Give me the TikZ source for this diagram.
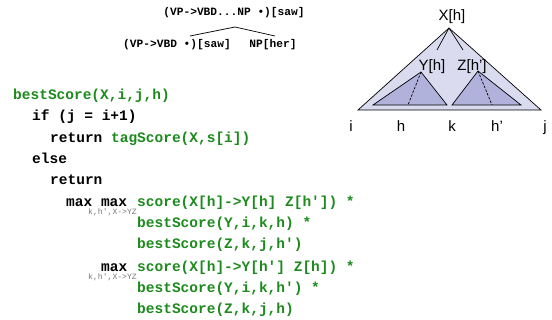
\documentclass[tikz,border=0pt]{standalone}
\usepackage{fontspec}
\setmainfont{Liberation Sans}
\setmonofont{Liberation Mono}
\definecolor{codegreen}{RGB}{28,138,28}
\definecolor{subgray}{RGB}{120,120,120}
\definecolor{outerfill}{RGB}{218,219,238}
\definecolor{innerfill}{RGB}{176,178,220}
\tikzset{
  code/.style={inner sep=0pt, anchor=base west, font=\fontsize{14.5}{17}\selectfont\ttfamily\bfseries},
  kw/.style={code, text=black},
  fn/.style={code, text=codegreen},
  sub/.style={inner sep=0pt, anchor=base west, text=subgray, font=\fontsize{8.1}{9}\selectfont\ttfamily},
  item/.style={inner sep=0pt, anchor=base, font=\fontsize{11.2}{13}\selectfont\ttfamily\bfseries},
  lbl/.style={inner sep=0pt, anchor=base, font=\fontsize{15}{17}\selectfont},
  edge/.style={draw=black, line width=0.7pt},
  tri/.style={draw=black, line width=0.7pt, line join=miter},
}
\begin{document}
\begin{tikzpicture}[x=1pt,y=-1pt]
\useasboundingbox (0,0) rectangle (552,320);

% dotted-rule combination at the top
\node[item] (parent) at (234,16) {(VP->VBD...NP •)[saw]};
\node[item] (lchild) at (177,48) {(VP->VBD •)[saw]};
\node[item] (rchild) at (273,48) {NP[her]};
\coordinate (papex) at (235,27);
\coordinate (lend) at (190,36);
\coordinate (rend) at (275,36);
\draw[edge] (papex) -- (lend);
\draw[edge] (papex) -- (rend);

% lexicalized subtree picture
\coordinate (top) at (449,28);
\coordinate (bl) at (358,110);
\coordinate (br) at (541,110);
\coordinate (ytop) at (421,72);
\coordinate (ybl) at (373,105);
\coordinate (ybr) at (447,105);
\coordinate (ztop) at (478,71);
\coordinate (zbl) at (452,105);
\coordinate (zbr) at (521,105);
\coordinate (yhead) at (408,105);
\coordinate (zhead) at (492,105);
\coordinate (ylink) at (437,50);
\coordinate (zlink) at (463,50);
\filldraw[tri, fill=outerfill] (top) -- (bl) -- (br) -- cycle;
\filldraw[tri, fill=innerfill] (ytop) -- (ybl) -- (ybr) -- cycle;
\filldraw[tri, fill=innerfill] (ztop) -- (zbl) -- (zbr) -- cycle;
\draw[edge, dashed, dash pattern=on 2.5pt off 1.5pt] (ytop) -- (yhead);
\draw[edge, dashed, dash pattern=on 2.5pt off 1.5pt] (ztop) -- (zhead);
\draw[edge] (top) -- (ylink);
\draw[edge] (top) -- (zlink);
\node[lbl] (xh) at (452,21) {X[h]};
\node[lbl] (yh) at (432,70.5) {Y[h]};
\node[lbl] (zh) at (472,70.5) {Z[h']};
\node[lbl] (pi) at (351,131.5) {i};
\node[lbl] (ph) at (401,131.5) {h};
\node[lbl] (pk) at (452,131.5) {k};
\node[lbl] (php) at (497,131.5) {h'};
\node[lbl] (pj) at (545,131.5) {j};

% recursive scoring routine
\node[fn] (l1) at (13,100) {bestScore(X,i,j,h)};
\node[kw] (l2) at (32,121) {if (j = i+1)};
\node[kw] (l3) at (50,142.5) {return \textcolor{codegreen}{tagScore(X,s[i])}};
\node[kw] (l4) at (32,163.5) {else};
\node[kw] (l5) at (50,184.5) {return};
\node[kw] (l6) at (66,206.5) {max max};
\node[sub] (s6) at (88,215) {k,h',X->YZ};
\node[fn] (l6b) at (137,206.5) {score(X[h]->Y[h] Z[h']) *};
\node[fn] (l7) at (137,228) {bestScore(Y,i,k,h) *};
\node[fn] (l8) at (137,249) {bestScore(Z,k,j,h')};
\node[kw] (l9) at (101,271.5) {max};
\node[sub] (s9) at (88,280) {k,h',X->YZ};
\node[fn] (l9b) at (137,271.5) {score(X[h]->Y[h'] Z[h]) *};
\node[fn] (l10) at (137,292.5) {bestScore(Y,i,k,h') *};
\node[fn] (l11) at (137,314) {bestScore(Z,k,j,h)};
\end{tikzpicture}
\end{document}
